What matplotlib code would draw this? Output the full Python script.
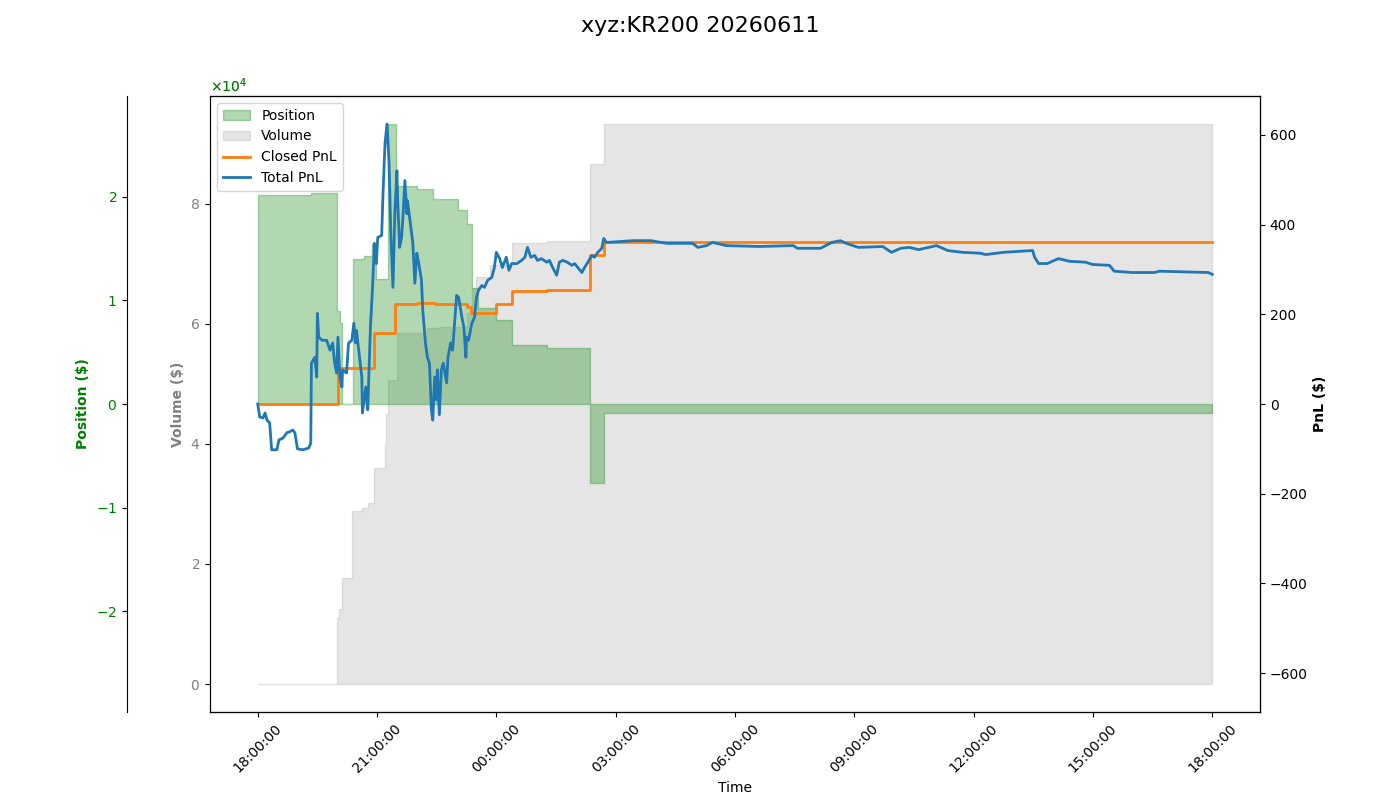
import matplotlib
matplotlib.use('Agg')
import matplotlib.pyplot as plt
import matplotlib.dates as mdates
import pandas as pd
import numpy as np

# session start date, times after midnight roll into next day
start_date = '2026-06-10'

# Position ($) - step series
pos_times = ['18:00', '19:21', '20:00', '20:04', '20:07', '20:23', '20:41', '20:53', '20:59',
             '21:16', '21:28', '22:00', '22:24', '23:02', '23:15', '23:24', '23:32', '00:00',
             '00:23', '01:17', '02:22', '02:42', '12:58', '18:00']
pos_values = [20200, 20300, 9000, 7800, 0, 14000, 14300, 15500, 12100,
              27000, 21000, 20700, 19800, 18700, 17400, 11200, 9300, 8100,
              5700, 5400, -7600, -900, -850, -850]

# Volume ($) - cumulative step series
vol_times = ['18:00', '19:59', '20:02', '20:07', '20:22', '20:38', '20:46', '20:56', '21:12',
             '21:14', '21:16', '21:30', '22:15', '22:34', '23:15', '23:24', '23:30', '23:50',
             '00:23', '01:17', '02:22', '02:42', '18:00']
vol_values = [0, 11000, 12500, 17700, 28800, 29300, 30200, 36000, 40000,
              45000, 50700, 58500, 59300, 59500, 61800, 66000, 67800, 69800,
              73500, 73800, 86700, 93300, 93300]

# Closed PnL ($) - step series
closed_times = ['18:00', '20:01', '20:56', '21:27', '22:00', '22:27', '23:15', '23:21', '00:00',
                '00:23', '01:17', '02:22', '02:43', '18:00']
closed_values = [0, 80, 158, 222, 226, 222, 216, 202, 222,
                 251, 255, 331, 362, 362]

# Total PnL ($)
total_times = ['18:00', '18:03', '18:08', '18:11', '18:14', '18:18', '18:21', '18:29', '18:32',
               '18:38', '18:44', '18:48', '18:53', '18:56', '19:00', '19:08', '19:17', '19:20',
               '19:21', '19:26', '19:29', '19:30', '19:32', '19:37', '19:44', '19:49', '19:53',
               '19:56', '19:59', '20:01', '20:04', '20:07', '20:08', '20:14', '20:17', '20:22',
               '20:25', '20:28', '20:29', '20:34', '20:37', '20:38', '20:43', '20:46', '20:50',
               '20:53', '20:56', '20:59', '21:01', '21:07', '21:09', '21:12', '21:15', '21:18',
               '21:21', '21:24', '21:27', '21:30', '21:31', '21:34', '21:37', '21:39', '21:42',
               '21:45', '21:46', '21:51', '21:54', '21:57', '22:00', '22:03', '22:07', '22:09',
               '22:13', '22:16', '22:19', '22:22', '22:24', '22:27', '22:30', '22:31', '22:34',
               '22:37', '22:40', '22:45', '22:47', '22:51', '22:54', '22:57', '23:00', '23:03',
               '23:08', '23:11', '23:14', '23:15', '23:18', '23:23', '23:27', '23:30', '23:33',
               '23:38', '23:42', '23:47', '23:53', '23:57', '00:00', '00:05', '00:09', '00:15',
               '00:19', '00:23', '00:31', '00:38', '00:43', '00:47', '00:52', '00:58', '01:02',
               '01:08', '01:16', '01:20', '01:25', '01:31', '01:35', '01:40', '01:47', '01:54',
               '01:58', '02:03', '02:09', '02:13', '02:18', '02:24', '02:28', '02:33', '02:39',
               '02:42', '02:46', '03:26', '03:53', '04:17', '04:26', '04:56', '05:04', '05:17',
               '05:26', '05:47', '06:37', '07:28', '07:34', '08:09', '08:26', '08:39', '08:48',
               '09:06', '09:43', '09:56', '10:10', '10:23', '10:37', '11:04', '11:21', '11:43',
               '12:10', '12:18', '12:45', '13:29', '13:32', '13:38', '13:51', '14:08', '14:25',
               '14:49', '14:59', '15:25', '15:32', '16:00', '16:33', '16:40', '17:54', '18:00']
total_values = [0, -29, -31, -20, -36, -42, -102, -102, -80,
                -76, -64, -62, -58, -64, -100, -102, -98, -87,
                91, 104, 60, 202, 149, 142, 142, 120, 136,
                91, 69, 149, 60, 38, 76, 69, 136, 142,
                180, 136, 164, 98, 60, -20, 38, -13, 171,
                253, 358, 313, 371, 376, 469, 580, 624, 542,
                371, 260, 431, 520, 460, 349, 371, 416, 498,
                424, 453, 393, 358, 269, 336, 313, 276, 209,
                136, 104, 91, -13, -36, 60, 9, 76, -24,
                76, 91, 47, 104, 136, 120, 180, 242, 238,
                193, 171, 104, 149, 142, 180, 193, 238, 253,
                264, 260, 276, 282, 304, 338, 324, 304, 327,
                298, 313, 313, 320, 327, 349, 327, 331, 320,
                324, 316, 320, 304, 287, 316, 320, 316, 309,
                313, 304, 293, 304, 316, 331, 327, 338, 347,
                369, 360, 364, 364, 358, 358, 358, 349, 353,
                360, 353, 351, 353, 347, 347, 360, 364, 358,
                349, 351, 338, 347, 349, 344, 353, 342, 338,
                336, 333, 338, 342, 327, 313, 313, 324, 318,
                316, 311, 309, 296, 293, 293, 296, 293, 289]


def to_datetime(times):
    # clock times from 18:00 onward; earlier clock times belong to the next day
    base = pd.Timestamp(start_date)
    out = []
    prev = None
    day = 0
    for t in times:
        ts = base + pd.Timedelta(days=day) + pd.to_timedelta(t + ':00')
        if prev is not None and ts <= prev - pd.Timedelta(hours=1):
            day += 1
            ts = ts + pd.Timedelta(days=1)
        out.append(ts)
        prev = ts
    return pd.to_datetime(out)


pos_t = to_datetime(pos_times)
vol_t = to_datetime(vol_times)
closed_t = to_datetime(closed_times)
total_t = to_datetime(total_times)

fig, ax1 = plt.subplots(figsize=(14, 8), dpi=100)
fig.subplots_adjust(left=0.15)

# Volume on host axis
ax1.fill_between(vol_t, vol_values, step='post', color='gray', alpha=0.2, label='Volume')
ax1.set_ylabel('Volume ($)', color='gray', fontweight='bold')
ax1.tick_params(axis='y', labelcolor='gray')
ax1.ticklabel_format(axis='y', style='sci', scilimits=(0, 0), useMathText=True)

# Position on outward left axis
ax3 = ax1.twinx()
ax3.spines['left'].set_position(('outward', 60))
ax3.spines['left'].set_visible(True)
ax3.yaxis.set_label_position('left')
ax3.yaxis.set_ticks_position('left')
ax3.fill_between(pos_t, pos_values, step='post', color='green', alpha=0.3, label='Position')
ax3.set_ylabel('Position ($)', color='green', fontweight='bold')
ax3.tick_params(axis='y', labelcolor='green')
ax3.ticklabel_format(axis='y', style='sci', scilimits=(0, 0), useMathText=True)
pos_lim = max(abs(v) for v in pos_values) * 1.1
ax3.set_ylim(-pos_lim, pos_lim)

# PnL on right axis
ax2 = ax1.twinx()
ax2.step(closed_t, closed_values, where='post', color='tab:orange', linewidth=2, label='Closed PnL')
ax2.plot(total_t, total_values, color='tab:blue', linewidth=2, label='Total PnL')
ax2.set_ylabel('PnL ($)', color='black', fontweight='bold')
pnl_lim = max(abs(v) for v in total_values + closed_values) * 1.1
ax2.set_ylim(-pnl_lim, pnl_lim)

ax1.xaxis.set_major_locator(mdates.HourLocator(byhour=range(0, 24, 3)))
ax1.xaxis.set_major_formatter(mdates.DateFormatter('%H:%M:%S'))
for lbl in ax1.get_xticklabels():
    lbl.set_rotation(45)
ax1.set_xlabel('Time')

h3, l3 = ax3.get_legend_handles_labels()
h1, l1 = ax1.get_legend_handles_labels()
h2, l2 = ax2.get_legend_handles_labels()
ax2.legend(h3 + h1 + h2, l3 + l1 + l2, loc='upper left')

fig.suptitle('xyz:KR200 20260611', fontsize=16)
fig.savefig('out.png')
